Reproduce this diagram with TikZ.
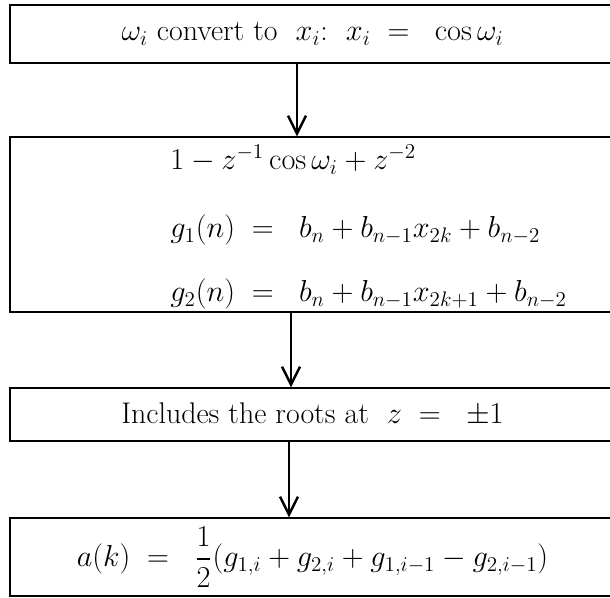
\documentclass[tikz,border=0pt]{standalone}
\usepackage{amsmath,amssymb}
\usetikzlibrary{arrows.meta, positioning, calc}

\begin{document}
\begin{tikzpicture}[
  >={Straight Barb[length=3.6mm, width=3.6mm]},
  flowbox/.style={draw=black, line width=0.7pt, minimum width=121mm,
    inner sep=0pt, align=center, font=\fontsize{17}{20}\selectfont},
  eqline/.style={anchor=base west, inner sep=0pt,
    font=\fontsize{17}{20}\selectfont},
  arr/.style={->, line width=1.4pt, black},
]

% Page frame (the boxes run off the right edge)
\useasboundingbox (0,0) rectangle (12.2,-11.96);

% =============================================
% Boxes
% =============================================

% omega -> x
\node[flowbox, minimum height=11.6mm] (conv) at (6.25,-0.68)
  {$\omega_i$ convert to\ \ $x_i$:\ \ $x_i\;=\;\;\cos\omega_i$};

% Polynomials
\node[flowbox, minimum height=35mm] (poly) at (6.25,-4.49) {};
\node[eqline] (zpoly) at (3.4,-3.40) {$1-z^{-1}\cos\omega_i+z^{-2}$};
\node[eqline] (gone) at (3.4,-4.76)
  {$g_1(n)\;=\;\;b_n+b_{n-1}x_{2k}+b_{n-2}$};
\node[eqline] (gtwo) at (3.4,-6.04)
  {$g_2(n)\;=\;\;b_n+b_{n-1}x_{2k+1}+b_{n-2}$};

% Roots
\node[flowbox, minimum height=10.6mm] (roots) at (6.25,-8.29)
  {Includes\ the\ roots\ at\ \ $z\;=\;\;\pm1$};

% Result
\node[flowbox, minimum height=15.6mm] (coef) at (6.25,-11.14)
  {$a(k)\;=\;\;\dfrac{1}{2}(g_{1,i}+g_{2,i}+g_{1,i-1}-g_{2,i-1})$};

% =============================================
% Arrows
% =============================================
\draw[arr] ([xshift=-3.1mm]conv.south) -- ([xshift=-3.1mm]poly.north);
\draw[arr] ([xshift=-4.3mm]poly.south) -- ([xshift=-4.3mm]roots.north);
\draw[arr] ([xshift=-4.7mm]roots.south) -- ([xshift=-4.7mm]coef.north);

\end{tikzpicture}
\end{document}
